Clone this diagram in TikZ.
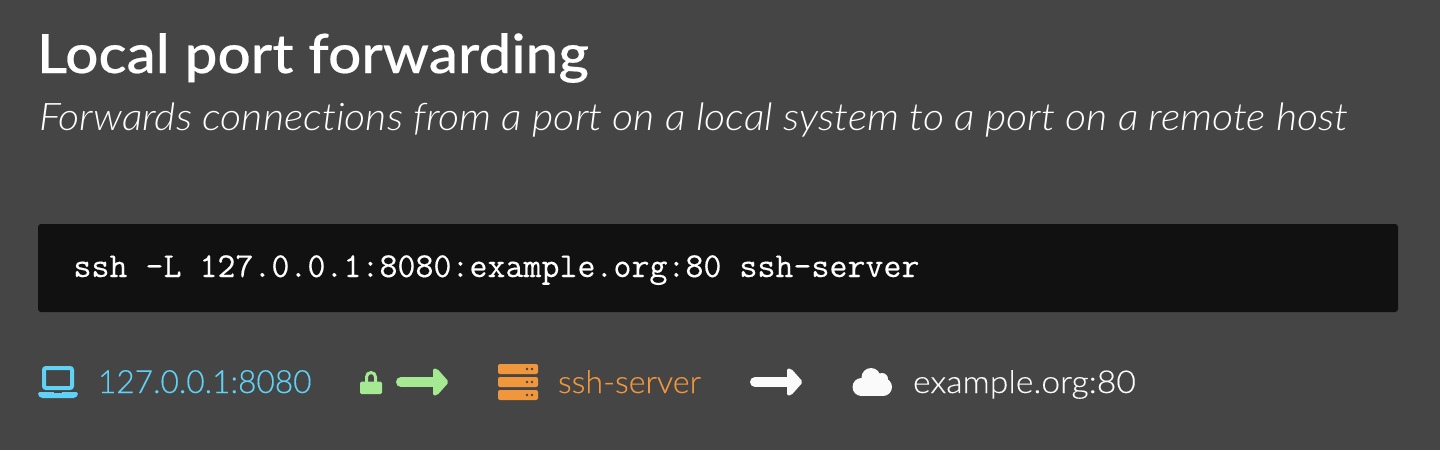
\documentclass[tikz,border=0pt]{standalone}
\usepackage{fontspec}
\setmainfont{Lato}
\newfontfamily\titlef[FakeStretch=1.084,FakeBold=0.4,Ligatures=NoCommon]{Lato Medium}
\newfontfamily\subf[FakeStretch=1.08,Ligatures=NoCommon]{Lato Light Italic}
\newfontfamily\addrf[FakeStretch=0.99,FakeBold=0.25]{Lato Light}
\newfontfamily\srvf[FakeStretch=1.023,FakeBold=0.25]{Lato Light}
\newfontfamily\exf[FakeStretch=1.071,FakeBold=0.25]{Lato Light}
\newfontfamily\monof[FakeBold=0.3]{Latin Modern Mono}
\definecolor{bgc}{HTML}{454545}
\definecolor{codebg}{HTML}{111111}
\definecolor{blu}{HTML}{5FD2F5}
\definecolor{grn}{HTML}{A5E993}
\definecolor{org}{HTML}{F0963C}
\definecolor{wht}{HTML}{FAFAFA}
\tikzset{
 txt/.style={anchor=base west,inner sep=0pt,outer sep=0pt},
 arrowbody/.style={draw=#1,line width=10pt,line cap=round},
}
\newcommand{\arrowicon}[3]{%
 \draw[arrowbody=#3] (#1,#2) -- (#1+33,#2);
 \fill[#3,rounded corners=2pt] (#1+32,#2-13.5) -- (#1+36,#2-13.5) -- (#1+48,#2) -- (#1+36,#2+13.5) -- (#1+32,#2+13.5) -- cycle;
}
\begin{document}
\begin{tikzpicture}[x=1pt,y=-1pt]
\useasboundingbox (0,0) rectangle (1440,450);
\fill[bgc] (0,0) rectangle (1440,450);
\node[txt,text=white,font={\titlef\fontsize{54}{60}\selectfont}] (title) at (37,73) {Local port forwarding};
\node[txt,text=white,font={\subf\fontsize{38}{42}\selectfont}] (sub) at (39,130) {Forwards connections from a port on a local system to a port on a remote host};
\fill[codebg,rounded corners=3pt] (38,224) rectangle (1398,312);
\node[txt,text=white,font={\monof\fontsize{34.95}{36}\selectfont}] (cmd) at (73.5,277) {ssh -L 127.0.0.1:8080:example.org:80 ssh-server};
% laptop
\draw[blu,line width=4pt,rounded corners=2pt] (44,368) rectangle (72,388);
\fill[blu,rounded corners=1.5pt] (38,392) -- (78,392) -- (78,395) -- (75,398) -- (41,398) -- (38,395) -- cycle;
\fill[bgc] (54,391.5) rectangle (62,393);
\node[txt,text=blu,font={\addrf\fontsize{32}{38}\selectfont}] (a) at (98,393) {127.0.0.1:8080};
% lock
\fill[grn,rounded corners=1.5pt] (360,381.5) rectangle (382,394);
\draw[grn,line width=3pt] (366.5,383) -- (366.5,377) arc (180:360:4.5) -- (375.5,383);
\arrowicon{401}{382}{grn}
% server
\foreach \y in {364,377,390}{
 \fill[org,rounded corners=2pt] (498,\y) rectangle (538,\y+10);
 \fill[bgc] (527,\y+5) circle (1.4) (532,\y+5) circle (1.4);
}
\node[txt,text=org,font={\srvf\fontsize{31.5}{36}\selectfont}] (b) at (558,393) {ssh-server};
\arrowicon{755}{382}{wht}
% cloud
\fill[wht] (861.5,387) circle (9) (871,377.5) circle (9.5) (882,379) circle (6) (883,387) circle (9);
\fill[wht] (861,384) rectangle (883,396);
\node[txt,text=wht,font={\exf\fontsize{31.5}{36}\selectfont}] (c) at (913,393) {example.org:80};
\end{tikzpicture}
\end{document}
